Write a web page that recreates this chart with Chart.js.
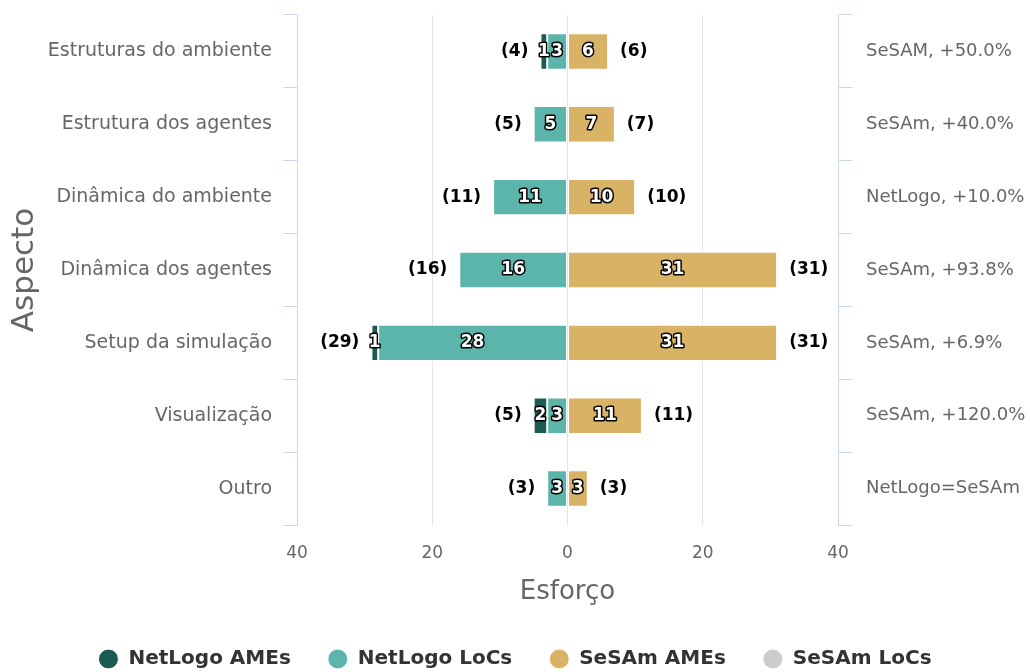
<!DOCTYPE html>
<html>
<head>
<meta charset="utf-8">
<script src="https://cdn.jsdelivr.net/npm/chart.js@4.4.0/dist/chart.umd.min.js"></script>
<style>
  html, body { margin: 0; padding: 0; background: #fff; }
  #wrap { width: 1030px; height: 672px; position: relative; }
</style>
</head>
<body>
<div id="wrap"><canvas id="chart"></canvas></div>
<script>
// Chart data
const categories = ['Estruturas do ambiente', 'Estrutura dos agentes', 'Dinâmica do ambiente',
    'Dinâmica dos agentes', 'Setup da simulação', 'Visualização', 'Outro'];
const rightLabels = ['SeSAM, +50.0%', 'SeSAm, +40.0%', 'NetLogo, +10.0%', 'SeSAm, +93.8%',
    'SeSAm, +6.9%', 'SeSAm, +120.0%', 'NetLogo=SeSAm'];
const netlogoAmes = [1, 0, 0, 0, 1, 2, 0];
const netlogoLocs = [3, 5, 11, 16, 28, 3, 3];
const sesamAmes = [6, 7, 10, 31, 31, 11, 3];
const sesamLocs = [0, 0, 0, 0, 0, 0, 0];
const xTicks = [-40, -20, 0, 20, 40];

const colors = {
    netlogoAmes: '#1b5b54',
    netlogoLocs: '#5bb5ab',
    sesamAmes: '#d9b365',
    sesamLocs: '#cccccc'
};

Chart.defaults.font.family = 'DejaVu Sans';
Chart.defaults.color = '#666';

// draws value labels inside bars and totals outside
const labelPlugin = {
    id: 'barLabels',
    afterDatasetsDraw(chart) {
        const ctx = chart.ctx;
        const xScale = chart.scales.x;
        ctx.save();
        ctx.font = 'bold 17px DejaVu Sans';
        ctx.textBaseline = 'middle';
        ctx.lineJoin = 'round';

        chart.data.datasets.forEach((ds, di) => {
            const meta = chart.getDatasetMeta(di);
            meta.data.forEach((bar, i) => {
                const v = ds.data[i];
                if (!v) return;
                const cx = (bar.x + bar.base) / 2;
                const txt = String(Math.abs(v));
                ctx.textAlign = 'center';
                ctx.lineWidth = 3;
                ctx.strokeStyle = '#000';
                ctx.strokeText(txt, cx, bar.y);
                ctx.fillStyle = '#fff';
                ctx.fillText(txt, cx, bar.y);
            });
        });

        const yMeta = chart.getDatasetMeta(0);
        categories.forEach((c, i) => {
            const y = yMeta.data[i].y;
            const left = netlogoAmes[i] + netlogoLocs[i];
            const right = sesamAmes[i] + sesamLocs[i];
            ctx.fillStyle = '#000';
            ctx.textAlign = 'right';
            ctx.fillText('(' + left + ')', xScale.getPixelForValue(-left) - 12, y);
            ctx.textAlign = 'left';
            ctx.fillText('(' + right + ')', xScale.getPixelForValue(right) + 12, y);
        });
        ctx.restore();
    }
};

const legendOrder = ['NetLogo AMEs', 'NetLogo LoCs', 'SeSAm AMEs', 'SeSAm LoCs'];

// y axes: fixed width, no extra padding from label heights
function fitY(width) {
    return scale => {
        scale.width = width;
        scale.paddingTop = 0;
        scale.paddingBottom = 0;
    };
}

new Chart(document.getElementById('chart'), {
    type: 'bar',
    data: {
        labels: categories,
        datasets: [
            // LoCs first so it sits next to zero on the left
            { label: 'NetLogo LoCs', data: netlogoLocs.map(v => -v), backgroundColor: colors.netlogoLocs },
            { label: 'NetLogo AMEs', data: netlogoAmes.map(v => -v), backgroundColor: colors.netlogoAmes },
            { label: 'SeSAm AMEs', data: sesamAmes, backgroundColor: colors.sesamAmes },
            { label: 'SeSAm LoCs', data: sesamLocs, backgroundColor: colors.sesamLocs }
        ].map(d => Object.assign(d, {
            borderColor: '#fff',
            borderWidth: 1,
            borderSkipped: false,
            barPercentage: 0.5,
            categoryPercentage: 1
        }))
    },
    options: {
        indexAxis: 'y',
        responsive: true,
        maintainAspectRatio: false,
        animation: false,
        layout: { padding: { top: 15, bottom: -7 } },
        plugins: {
            legend: {
                position: 'bottom',
                labels: {
                    usePointStyle: true,
                    pointStyle: 'circle',
                    boxHeight: 14,
                    pointStyleWidth: 20,
                    padding: 37,
                    color: '#333',
                    font: { size: 20, weight: 'bold' },
                    sort: (a, b) => legendOrder.indexOf(a.text) - legendOrder.indexOf(b.text)
                }
            },
            tooltip: { enabled: false }
        },
        scales: {
            x: {
                stacked: true,
                min: -40,
                max: 40,
                afterBuildTicks: scale => { scale.ticks = xTicks.map(v => ({ value: v })); },
                ticks: {
                    padding: 18,
                    font: { size: 17 },
                    color: '#666',
                    callback: v => Math.abs(v)
                },
                grid: { color: '#e6e6e6', drawTicks: false },
                border: { display: false },
                title: {
                    display: true,
                    text: 'Esforço',
                    font: { size: 26 },
                    color: '#666',
                    padding: { top: 4, bottom: 4 }
                },
                afterFit: scale => { scale.height = 87; }
            },
            y: {
                stacked: true,
                position: 'left',
                ticks: { padding: 11, font: { size: 19 }, color: '#666' },
                grid: { offset: true, drawOnChartArea: false, tickLength: 14, color: '#ccd6eb' },
                border: { color: '#ccd6eb' },
                title: {
                    display: true,
                    text: 'Aspecto',
                    font: { size: 31 },
                    color: '#666',
                    padding: { top: 6, bottom: 0 }
                },
                afterFit: fitY(297)
            },
            y2: {
                type: 'category',
                labels: rightLabels,
                position: 'right',
                offset: true,
                ticks: { padding: 14, font: { size: 18 }, color: '#666' },
                grid: { offset: true, drawOnChartArea: false, tickLength: 14, color: '#ccd6eb' },
                border: { color: '#ccd6eb' },
                afterFit: fitY(192)
            }
        }
    },
    plugins: [labelPlugin]
});
</script>
</body>
</html>
